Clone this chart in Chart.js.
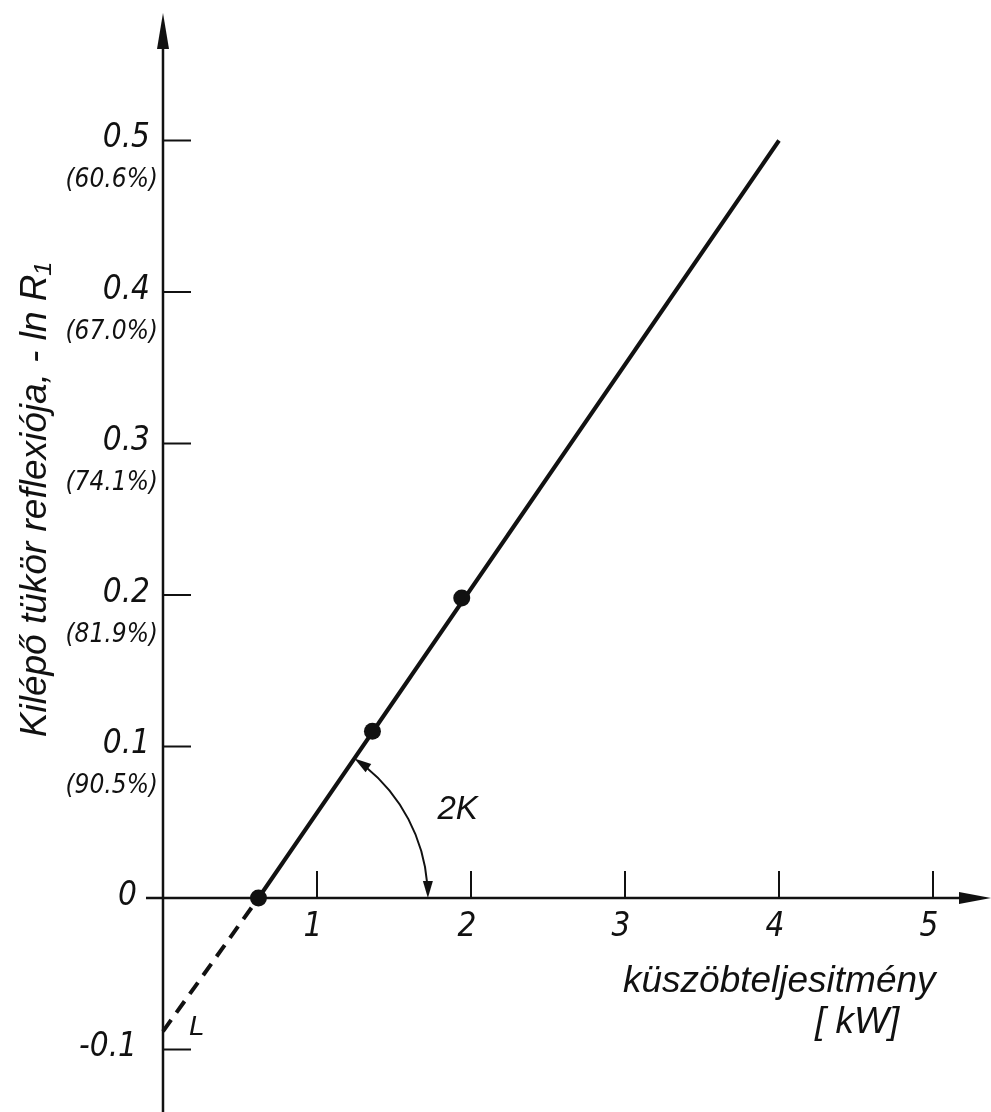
<!DOCTYPE html>
<html>
<head>
<meta charset="utf-8">
<title>Küszöbteljesitmény</title>
<script src="https://cdn.jsdelivr.net/npm/chart.js@4.4.1/dist/chart.umd.min.js"></script>
<style>
    html, body { margin: 0; padding: 0; background: #fff; }
    #doboz { width: 991px; height: 1112px; }
</style>
</head>
<body>
<div id="doboz"><canvas id="grafikon"></canvas></div>
<script>
// mért pontok (küszöbteljesítmény kW, -ln R1)
const meresTeljesitmeny = [0.62, 1.36, 1.94];
const meresVeszteseg = [0, 0.11, 0.198];

// illesztett egyenes: első szakasz szaggatott (extrapoláció L-ig)
const egyenesTeljesitmeny = [0, 0.62, 4.0];
const egyenesVeszteseg = [-0.088, 0, 0.5];

// tengely beosztások
const xOsztasok = [1, 2, 3, 4, 5];
const xFeliratok = ['1', '2', '3', '4', '5'];
const yOsztasok = [-0.1, 0, 0.1, 0.2, 0.3, 0.4, 0.5];
const yFeliratok = ['-0.1', '0', '0.1', '0.2', '0.3', '0.4', '0.5'];
const reflexioFeliratok = ['', '', '(90.5%)', '(81.9%)', '(74.1%)', '(67.0%)', '(60.6%)'];

// a 2K szögnyíl itt éri el a vízszintes tengelyt
const szogVegTeljesitmeny = 1.72;

const tinta = '#111';
const szamBetu = 'italic 33px "Liberation Sans Narrow", "DejaVu Sans Condensed", "Liberation Sans", sans-serif';
const szazalekBetu = 'italic 26px "Liberation Sans Narrow", "DejaVu Sans Condensed", "Liberation Sans", sans-serif';
const cimBetu = 'italic 37px "Liberation Sans", "DejaVu Sans", sans-serif';

/**
 * Nyílhegy rajzolása
 */
function nyilhegy(ctx, x, y, szog, hossz, fel) {
    ctx.save();
    ctx.translate(x, y);
    ctx.rotate(szog);
    ctx.beginPath();
    ctx.moveTo(0, 0);
    ctx.lineTo(-hossz, -fel);
    ctx.lineTo(-hossz, fel);
    ctx.closePath();
    ctx.fill();
    ctx.restore();
}

// tengelyek, osztások és feliratok a középen keresztező tengelyekhez
const tengelyek = {
    id: 'tengelyek',
    beforeDatasetsDraw(chart) {
        const { ctx, chartArea, scales: { x, y } } = chart;
        const x0 = x.getPixelForValue(0);
        const y0 = y.getPixelForValue(0);
        ctx.save();
        ctx.strokeStyle = tinta;
        ctx.fillStyle = tinta;
        ctx.lineWidth = 2.5;

        // függőleges tengely
        const felso = chartArea.top + 13;
        ctx.beginPath();
        ctx.moveTo(x0, chartArea.bottom);
        ctx.lineTo(x0, felso + 20);
        ctx.stroke();
        nyilhegy(ctx, x0, felso, -Math.PI / 2, 36, 6);

        // vízszintes tengely
        ctx.beginPath();
        ctx.moveTo(x0 - 17, y0);
        ctx.lineTo(chartArea.right - 20, y0);
        ctx.stroke();
        nyilhegy(ctx, chartArea.right, y0, 0, 32, 6);

        ctx.lineWidth = 2;
        // x osztások felfelé
        xOsztasok.forEach((v, i) => {
            const px = x.getPixelForValue(v);
            ctx.beginPath();
            ctx.moveTo(px, y0);
            ctx.lineTo(px, y0 - 27);
            ctx.stroke();
            ctx.font = szamBetu;
            ctx.textAlign = 'center';
            ctx.textBaseline = 'middle';
            ctx.fillText(xFeliratok[i], px - 4, y0 + 29);
        });

        // y osztások jobbra
        yOsztasok.forEach((v, i) => {
            const py = y.getPixelForValue(v);
            if (v !== 0) {
                ctx.beginPath();
                ctx.moveTo(x0, py);
                ctx.lineTo(x0 + 28, py);
                ctx.stroke();
            }
            ctx.font = szamBetu;
            ctx.textAlign = 'right';
            ctx.textBaseline = 'middle';
            const jobb = v > 0 ? x0 - 13 : x0 - 26;
            ctx.fillText(yFeliratok[i], jobb, py - 2);
            if (reflexioFeliratok[i]) {
                ctx.font = szazalekBetu;
                ctx.fillText(reflexioFeliratok[i], x0 - 5, py + 40);
            }
        });

        // tengelycímek
        ctx.font = cimBetu;
        ctx.textAlign = 'center';
        ctx.textBaseline = 'middle';
        ctx.save();
        ctx.translate(36, 500);
        ctx.rotate(-Math.PI / 2);
        ctx.fillText('Kilépő tükör reflexiója, - ln R₁', 0, 0);
        ctx.restore();

        ctx.textAlign = 'left';
        ctx.fillText('küszöbteljesitmény', 623, 982);
        ctx.fillText('[ kW]', 815, 1023);
        ctx.restore();
    },
    afterDatasetsDraw(chart) {
        const { ctx, scales: { x, y } } = chart;
        ctx.save();
        ctx.strokeStyle = tinta;
        ctx.fillStyle = tinta;

        // 2K szög ív, középpont a tengelymetszéspontban
        const kx = x.getPixelForValue(egyenesTeljesitmeny[1]);
        const ky = y.getPixelForValue(egyenesVeszteseg[1]);
        const r = x.getPixelForValue(szogVegTeljesitmeny) - kx;
        const szog = Math.atan2(
            y.getPixelForValue(egyenesVeszteseg[2]) - ky,
            x.getPixelForValue(egyenesTeljesitmeny[2]) - kx
        );
        ctx.lineWidth = 2;
        ctx.beginPath();
        ctx.arc(kx, ky, r, szog + 0.08, -0.08);
        ctx.stroke();
        // nyílhegyek az ív két végén
        nyilhegy(ctx, kx + r * Math.cos(szog), ky + r * Math.sin(szog), szog - Math.PI / 2, 17, 5);
        nyilhegy(ctx, kx + r, ky, Math.PI / 2, 17, 5);

        ctx.font = 'italic 33px "Liberation Sans", "DejaVu Sans", sans-serif';
        ctx.textAlign = 'left';
        ctx.textBaseline = 'middle';
        ctx.fillText('2K', kx + 179, ky - 88);

        // L pont felirata
        ctx.font = 'italic 28px "Liberation Sans", "DejaVu Sans", sans-serif';
        ctx.fillText('L', x.getPixelForValue(0) + 26, y.getPixelForValue(egyenesVeszteseg[0]) - 4);
        ctx.restore();
    }
};

const pontok = meresTeljesitmeny.map((v, i) => ({ x: v, y: meresVeszteseg[i] }));
const egyenes = egyenesTeljesitmeny.map((v, i) => ({ x: v, y: egyenesVeszteseg[i] }));

const grafikon = new Chart(document.getElementById('grafikon'), {
    type: 'scatter',
    data: {
        datasets: [
            {
                label: 'mért pontok',
                data: pontok,
                pointRadius: 8.5,
                pointBackgroundColor: tinta,
                pointBorderWidth: 0
            },
            {
                type: 'line',
                label: 'illesztés',
                data: egyenes,
                borderColor: tinta,
                borderWidth: 4,
                pointRadius: 0,
                showLine: true,
                fill: false,
                segment: {
                    borderDash: ctx => ctx.p0DataIndex === 0 ? [14, 9] : undefined
                }
            }
        ]
    },
    options: {
        responsive: true,
        maintainAspectRatio: false,
        animation: false,
        layout: { padding: 0, autoPadding: false },
        scales: {
            x: { type: 'linear', display: false, min: -1.0584, max: 5.3766 },
            y: { type: 'linear', display: false, min: -0.14125, max: 0.59274 }
        },
        plugins: {
            legend: { display: false },
            tooltip: { enabled: false }
        }
    },
    plugins: [tengelyek]
});
</script>
</body>
</html>
